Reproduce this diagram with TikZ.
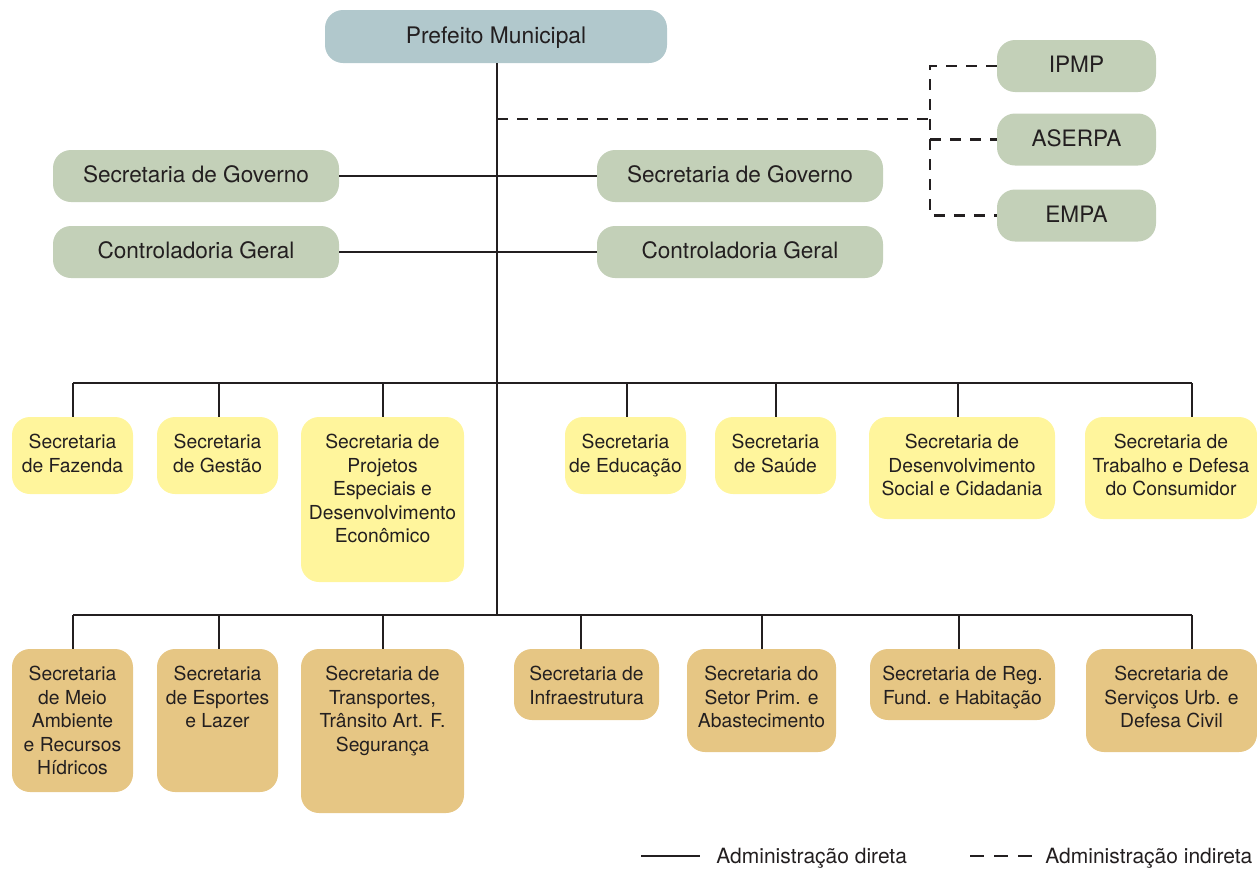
\documentclass[tikz,border=0pt]{standalone}
\usepackage{fontspec}
\setmainfont{TeX Gyre Heros}
\usetikzlibrary{fit}

\definecolor{ink}{HTML}{231F20}
\definecolor{headfill}{HTML}{B1C8CC}
\definecolor{stafffill}{HTML}{C3D0B8}
\definecolor{upperfill}{HTML}{FFF59C}
\definecolor{lowerfill}{HTML}{E6C684}

\tikzset{
  box/.style={rounded corners=9pt, inner sep=0pt, draw=none, text=ink},
  labelled/.style={box, text height=6.8pt, text depth=0pt},
  headbox/.style={labelled, fill=headfill, font=\fontsize{11.4}{13.7}\selectfont,
    minimum width=171pt, minimum height=26.5pt},
  staffbox/.style={labelled, fill=stafffill, font=\fontsize{11.3}{13.5}\selectfont,
    minimum width=143pt, minimum height=26pt},
  entitybox/.style={labelled, fill=stafffill, font=\fontsize{11.3}{13.5}\selectfont,
    minimum width=79.5pt, minimum height=26pt},
  upperbox/.style={box, fill=upperfill},
  lowerbox/.style={box, fill=lowerfill},
  caption/.style={anchor=north, inner sep=0pt, align=center, text=ink,
    font=\fontsize{9.65}{11.7}\selectfont},
  link/.style={draw=ink, line width=1.45pt},
  indirect/.style={link, dash pattern=on 5.5pt off 4.5pt},
  legendtext/.style={anchor=base west, inner sep=0pt, text=ink,
    font=\fontsize{10.5}{12.6}\selectfont},
}

\begin{document}
\begin{tikzpicture}[x=0.5pt, y=-0.5pt]
\useasboundingbox (0,0) rectangle (1257,868);

% --- top of the hierarchy ---
\node[headbox] (pm) at (496,36.5) {Prefeito Municipal};

% staff bodies on both sides of the trunk
\node[staffbox] (govl)  at (196,176) {Secretaria de Governo};
\node[staffbox] (govr)  at (740,176) {Secretaria de Governo};
\node[staffbox] (ctrll) at (196,252) {Controladoria Geral};
\node[staffbox] (ctrlr) at (740,252) {Controladoria Geral};

% indirect administration
\node[entitybox] (ipmp)   at (1076.5,66)    {IPMP};
\node[entitybox] (aserpa) at (1076.5,139.5) {ASERPA};
\node[entitybox] (empa)   at (1076.5,215.5) {EMPA};

% --- first row of secretariats ---
\node[upperbox, fit={(12,417) (133,494)}]    (s1) {};
\node[upperbox, fit={(157,417) (278,494)}]   (s2) {};
\node[upperbox, fit={(301,417) (464,582)}]   (s3) {};
\node[upperbox, fit={(565,417) (686,494)}]   (s4) {};
\node[upperbox, fit={(715,417) (836,494)}]   (s5) {};
\node[upperbox, fit={(869,417) (1055,519)}]  (s6) {};
\node[upperbox, fit={(1085,417) (1257,519)}] (s7) {};

\node[caption] (t1) at ([yshift=-8.75pt]s1.north) {Secretaria\\de Fazenda};
\node[caption] (t2) at ([yshift=-8.75pt]s2.north) {Secretaria\\de Gestão};
\node[caption] (t3) at ([yshift=-8.75pt]s3.north) {Secretaria de\\Projetos\\Especiais e\\Desenvolvimento\\Econômico};
\node[caption] (t4) at ([yshift=-8.75pt]s4.north) {Secretaria\\de Educação};
\node[caption] (t5) at ([yshift=-8.75pt]s5.north) {Secretaria\\de Saúde};
\node[caption] (t6) at ([yshift=-8.75pt]s6.north) {Secretaria de\\Desenvolvimento\\Social e Cidadania};
\node[caption] (t7) at ([yshift=-8.75pt]s7.north) {Secretaria de\\Trabalho e Defesa\\do Consumidor};

% --- second row of secretariats ---
\node[lowerbox, fit={(12,649) (133,792)}]    (r1) {};
\node[lowerbox, fit={(157,649) (278,792)}]   (r2) {};
\node[lowerbox, fit={(301,649) (464,813)}]   (r3) {};
\node[lowerbox, fit={(514,649) (659,720)}]   (r4) {};
\node[lowerbox, fit={(687,649) (836,752)}]   (r5) {};
\node[lowerbox, fit={(870,649) (1055,720)}]  (r6) {};
\node[lowerbox, fit={(1086,649) (1257,752)}] (r7) {};

\node[caption] (q1) at ([yshift=-8.75pt]r1.north) {Secretaria\\de Meio\\Ambiente\\e Recursos\\Hídricos};
\node[caption] (q2) at ([yshift=-8.75pt]r2.north) {Secretaria\\de Esportes\\e Lazer};
\node[caption] (q3) at ([yshift=-8.75pt]r3.north) {Secretaria de\\Transportes,\\Trânsito Art. F.\\Segurança};
\node[caption] (q4) at ([yshift=-8.75pt]r4.north) {Secretaria de\\Infraestrutura};
\node[caption] (q5) at ([yshift=-8.75pt]r5.north) {Secretaria do\\Setor Prim. e\\Abastecimento};
\node[caption] (q6) at ([yshift=-8.75pt]r6.north) {Secretaria de Reg.\\Fund. e Habitação};
\node[caption] (q7) at ([yshift=-8.75pt]r7.north) {Secretaria de\\Serviços Urb. e\\Defesa Civil};

% --- trunk and distribution bars ---
\coordinate (trunkend) at (497,615);
\draw[link] (pm.south -| trunkend) -- (trunkend);

\draw[link] (govl.east) -- (govr.west);
\draw[link] (ctrll.east) -- (ctrlr.west);

\coordinate (u1) at (73,383);  \coordinate (u2) at (219,383);
\coordinate (u3) at (383,383); \coordinate (u4) at (627,383);
\coordinate (u5) at (776,383); \coordinate (u6) at (958,383);
\coordinate (u7) at (1192,383);
\draw[link] (u1) -- (u7);
\foreach \k in {1,...,7} { \draw[link] (u\k) -- (u\k |- s\k.north); }

\coordinate (l1) at (73,615);  \coordinate (l2) at (219,615);
\coordinate (l3) at (383,615); \coordinate (l4) at (581,615);
\coordinate (l5) at (762,615); \coordinate (l6) at (959,615);
\coordinate (l7) at (1192,615);
\draw[link] (l1) -- (l7);
\foreach \k in {1,...,7} { \draw[link] (l\k) -- (l\k |- r\k.north); }

% --- indirect administration branch ---
\coordinate (tap) at (497,119);
\coordinate (split) at (930,119);
\draw[indirect] (tap) -- (split);
\draw[indirect] (ipmp.west) -- (ipmp.west -| split) -- (empa.west -| split) -- (empa.west);
\draw[indirect] (aserpa.west -| split) -- (aserpa.west);

% --- legend ---
\coordinate (ls1) at (641,856); \coordinate (ls2) at (700,856);
\draw[link] (ls1) -- (ls2);
\node[legendtext] (lt1) at (716,863) {Administração direta};
\coordinate (ld1) at (970,856); \coordinate (ld2) at (1035,856);
\draw[indirect, dash pattern=on 7pt off 5pt] (ld1) -- (ld2);
\node[legendtext] (lt2) at (1045,863) {Administração indireta};
\end{tikzpicture}
\end{document}
